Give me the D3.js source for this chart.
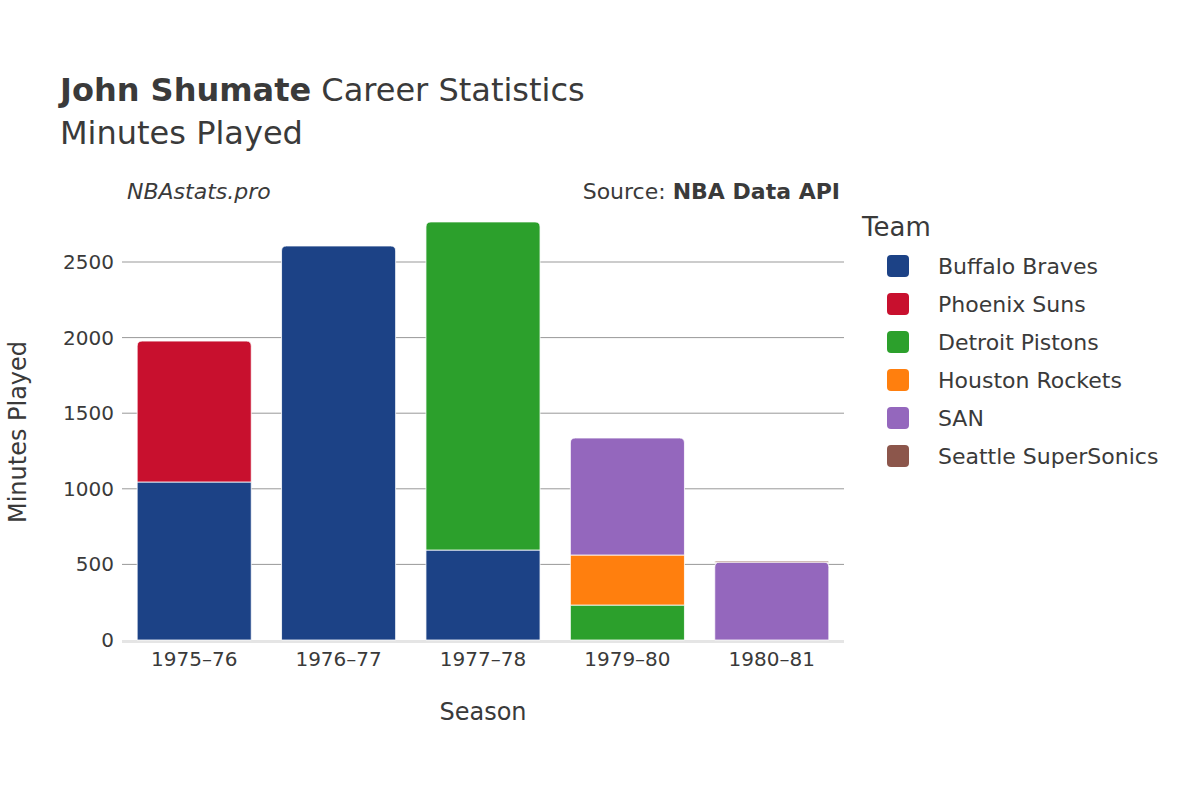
<!DOCTYPE html>
<html>
<head>
<meta charset="utf-8">
<script src="https://cdn.jsdelivr.net/npm/d3@7"></script>
<style>
  body { margin: 0; background: #fff; }
  text { font-family: "DejaVu Sans", sans-serif; fill: #3a3a3a; }
</style>
</head>
<body>
<svg id="chart" width="1200" height="800"></svg>
<script>
// Data
const seasons = ["1975–76", "1976–77", "1977–78", "1979–80", "1980–81"];
const teams = ["Buffalo Braves", "Phoenix Suns", "Detroit Pistons", "Houston Rockets", "SAN", "Seattle SuperSonics"];
const teamColors = ["#1c4286", "#c8102e", "#2ca02c", "#ff7f0e", "#9467bd", "#8c564b"];
const buffaloMin = [1045, 2606, 595, 0, 0];
const phoenixMin = [932, 0, 0, 0, 0];
const detroitMin = [0, 0, 2170, 231, 0];
const houstonMin = [0, 0, 0, 331, 0];
const sanMin = [0, 0, 0, 774, 515];
const seattleMin = [0, 0, 0, 0, 7];
const yTicks = [0, 500, 1000, 1500, 2000, 2500];

const series = [buffaloMin, phoenixMin, detroitMin, houstonMin, sanMin, seattleMin];
const rows = seasons.map((s, i) => {
    const r = { season: s };
    teams.forEach((t, j) => r[t] = series[j][i]);
    return r;
});
const stacked = d3.stack().keys(teams)(rows);

const margin = { top: 224, right: 356, bottom: 160, left: 122 };
const width = 1200 - margin.left - margin.right;
const height = 800 - margin.top - margin.bottom;

const svg = d3.select('#chart');
const g = svg.append('g').attr('transform', `translate(${margin.left},${margin.top})`);

const x = d3.scaleBand().domain(seasons).range([0, width]).paddingInner(0.21).paddingOuter(0.105);
const y = d3.scaleLinear().domain([0, 2757 * 1.0]).range([height, 0]);
y.domain([0, 2500 / ((640 - 262) / height)]);

// Grid
g.selectAll('.grid').data(yTicks.filter(d => d > 0)).join('line')
    .attr('x1', 0).attr('x2', width)
    .attr('y1', d => y(d)).attr('y2', d => y(d))
    .attr('stroke', '#999').attr('stroke-width', 1);
g.append('line').attr('x1', 0).attr('x2', width).attr('y1', y(0) + 1.5).attr('y2', y(0) + 1.5)
    .attr('stroke', '#e5e5e5').attr('stroke-width', 3);

// Bars
stacked.forEach((layer, j) => {
    g.selectAll(`.bar${j}`).data(layer.filter(d => d[1] - d[0] > 0)).join('path')
        .attr('fill', teamColors[j])
        .attr('stroke', '#fff').attr('stroke-width', 0.8)
        .attr('d', d => {
            const x0 = x(d.data.season), w = x.bandwidth();
            const yt = y(d[1]), yb = y(d[0]);
            const isTop = d3.sum(teams.slice(j + 1), t => d.data[t]) === 0 || (j === 4 && d.data.season === "1980–81");
            const r = isTop ? Math.min(5, (yb - yt)) : 0;
            return `M${x0},${yb}V${yt + r}Q${x0},${yt} ${x0 + r},${yt}H${x0 + w - r}Q${x0 + w},${yt} ${x0 + w},${yt + r}V${yb}Z`;
        });
});

// Axes
g.selectAll('.ytick').data(yTicks).join('text')
    .attr('x', -8).attr('y', d => y(d)).attr('dy', '0.35em')
    .attr('text-anchor', 'end').style('font-size', '20px').text(d => d);
g.selectAll('.xtick').data(seasons).join('text')
    .attr('x', d => x(d) + x.bandwidth() / 2).attr('y', height + 26)
    .attr('text-anchor', 'middle').style('font-size', '20px').text(d => d);

svg.append('text').attr('x', margin.left + width / 2).attr('y', 720)
    .attr('text-anchor', 'middle').style('font-size', '24px').text('Season');
svg.append('text').attr('transform', `translate(26,${margin.top + height / 2}) rotate(-90)`)
    .attr('text-anchor', 'middle').style('font-size', '24px').text('Minutes Played');

// Titles
const title = svg.append('text').attr('x', 60).attr('y', 101).style('font-size', '32px');
title.append('tspan').style('font-weight', 'bold').text('John Shumate');
title.append('tspan').text(' Career Statistics');
svg.append('text').attr('x', 60).attr('y', 144).style('font-size', '32px').text('Minutes Played');

svg.append('text').attr('x', 127).attr('y', 199).style('font-size', '22px').style('font-style', 'italic').text('NBAstats.pro');
const src = svg.append('text').attr('x', 840).attr('y', 199).attr('text-anchor', 'end').style('font-size', '22px');
src.append('tspan').text('Source: ');
src.append('tspan').style('font-weight', 'bold').text('NBA Data API');

// Legend
svg.append('text').attr('x', 862).attr('y', 236).style('font-size', '26px').text('Team');
const leg = svg.selectAll('.leg').data(teams).join('g')
    .attr('transform', (d, i) => `translate(0,${266 + i * 38})`);
leg.append('rect').attr('x', 887).attr('y', -11).attr('width', 22).attr('height', 22).attr('rx', 4)
    .attr('fill', (d, i) => teamColors[i]);
leg.append('text').attr('x', 938).attr('y', 0).attr('dy', '0.35em').style('font-size', '22px').text(d => d);
</script>
</body>
</html>
